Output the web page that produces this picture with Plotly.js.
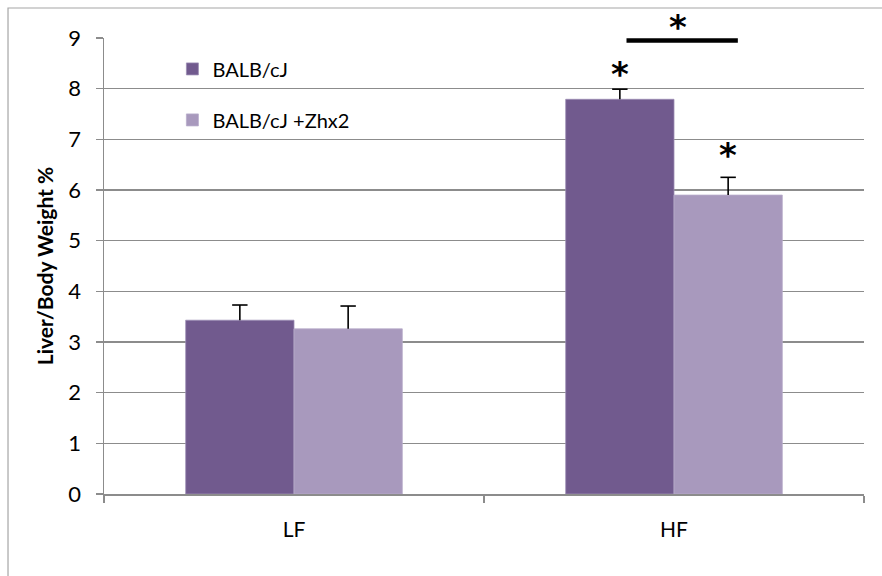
<!DOCTYPE html>
<html>
<head>
<meta charset="utf-8">
<script src="https://cdn.plot.ly/plotly-3.0.1.min.js"></script>
<style>
html,body{margin:0;padding:0;background:#fff;}
#chart{width:882px;height:576px;}
</style>
</head>
<body>
<div id="chart"></div>
<script>
const categories = ["LF", "HF"];
const seriesNames = ["BALB/cJ", "BALB/cJ +Zhx2"];
const balbValues = [3.43, 7.79];
const balbErrors = [0.30, 0.20];
const zhx2Values = [3.26, 5.90];
const zhx2Errors = [0.45, 0.35];
const yTicks = [0, 1, 2, 3, 4, 5, 6, 7, 8, 9];
const starLabel = "<b>*</b>";

const colorDark = "#715A8E";
const colorLight = "#A899BD";
const bargap = 0.43;
const half = (1 - bargap) / 2;   // bar width in category units
const fontFam = "Lato, 'Open Sans', sans-serif";

const errStyle = (arr) => ({type: 'data', array: arr, symmetric: false, arrayminus: arr.map(() => 0),
  color: '#000', thickness: 1.6, width: 0});

const tops = (v, e) => v.map((d, i) => d + e[i]);
const capMarker = {symbol: 'line-ew-open', size: 11, color: '#000', line: {color: '#000', width: 1.6}};

const traces = [
  {type: 'bar', name: seriesNames[0], x: categories, y: balbValues,
   marker: {color: colorDark, line: {color: '#9c8db4', width: 0.8}},
   error_y: errStyle(balbErrors), legendgroup: 'a', offsetgroup: 'a', alignmentgroup: 'g'},
  {type: 'bar', name: seriesNames[1], x: categories, y: zhx2Values,
   marker: {color: colorLight, line: {color: '#b8acca', width: 0.8}},
   error_y: errStyle(zhx2Errors), legendgroup: 'b', offsetgroup: 'b', alignmentgroup: 'g'},
  {type: 'scatter', mode: 'markers', x: categories, y: tops(balbValues, balbErrors), showlegend: false,
   offsetgroup: 'a', alignmentgroup: 'g', marker: capMarker, cliponaxis: false},
  {type: 'scatter', mode: 'markers', x: categories, y: tops(zhx2Values, zhx2Errors), showlegend: false,
   offsetgroup: 'b', alignmentgroup: 'g', marker: capMarker, cliponaxis: false}
];

const hfIdx = 1;
const c1 = hfIdx - half / 2;
const c2 = hfIdx + half / 2;
const starFont = {family: 'DejaVu Sans, sans-serif', size: 34, color: '#000'};
const annotations = [
  {x: c1, y: balbValues[hfIdx] + balbErrors[hfIdx] + 0.3, yref: 'y', text: starLabel},
  {x: c2, y: zhx2Values[hfIdx] + zhx2Errors[hfIdx] + 0.45, yref: 'y', text: starLabel},
  {x: (c1 + c2) / 2 + 0.01, y: 1.025, yref: 'paper', text: starLabel}
].map(a => Object.assign(a, {xref: 'x', showarrow: false, font: starFont, yanchor: 'middle'}));

const layout = {
  width: 882, height: 576,
  margin: {l: 104, r: 18, t: 38, b: 82},
  paper_bgcolor: '#fff', plot_bgcolor: '#fff',
  barmode: 'group', bargap: bargap, bargroupgap: 0,
  scattermode: 'group', scattergap: bargap,
  font: {family: fontFam, size: 20, color: '#000'},
  showlegend: true,
  legend: {x: 0.09, y: 0.975, xanchor: 'left', yanchor: 'top', bgcolor: 'rgba(0,0,0,0)',
           font: {family: fontFam, size: 20}, tracegroupgap: 22, traceorder: 'grouped'},
  xaxis: {type: 'category', showgrid: false, showline: true, linecolor: '#8c8c8c', linewidth: 1.5,
          ticks: 'outside', tickson: 'boundaries', ticklen: 7, tickcolor: '#8c8c8c', tickwidth: 1.5,
          ticklabelstandoff: 16, tickfont: {family: fontFam, size: 21}, zeroline: false},
  yaxis: {range: [0, 9], tickvals: yTicks, showgrid: true, gridcolor: '#8c8c8c', gridwidth: 1.5,
          showline: true, linecolor: '#8c8c8c', linewidth: 1.5, ticks: 'outside', ticklen: 7,
          tickcolor: '#8c8c8c', tickwidth: 1.5, zeroline: false, ticklabelstandoff: 10,
          tickfont: {family: fontFam, size: 22},
          title: {text: '<b>Liver/Body Weight %</b>', font: {family: fontFam, size: 21}, standoff: 9}},
  shapes: [
    {type: 'line', xref: 'x', yref: 'y', x0: hfIdx - 0.125, x1: hfIdx + 0.168, y0: 8.95, y1: 8.95,
     line: {color: '#000', width: 4.5}},
    {type: 'path', xref: 'paper', yref: 'paper',
     path: 'M -0.1263,-0.2 L -0.1263,1.0658 L 1.03,1.0658', line: {color: '#a6a6a6', width: 1.2}}
  ],
  annotations: annotations
};

Plotly.newPlot('chart', traces, layout, {displayModeBar: false, staticPlot: true});
</script>
</body>
</html>
